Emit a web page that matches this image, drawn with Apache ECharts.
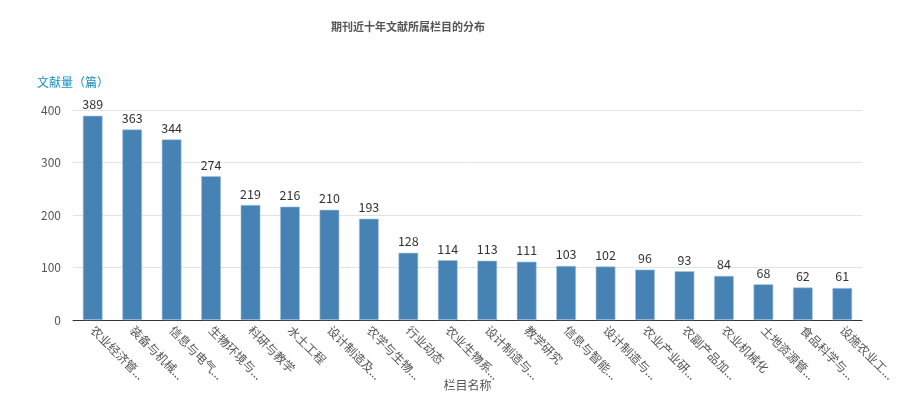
<!DOCTYPE html>
<html>
<head>
  <meta charset="utf-8">
  <title>期刊近十年文献所属栏目的分布</title>
  <script src="https://cdn.jsdelivr.net/npm/echarts@6/dist/echarts.min.js"></script>
  <style>
    html, body { margin: 0; padding: 0; background: #fff; }
    #main { width: 901px; height: 409px; }
  </style>
</head>
<body>
  <div id="main"></div>
  <script>
    // 栏目名称（标签过长时截断显示）
    const columns = [
      '农业经济管理', '装备与机械化工程', '信息与电气技术', '生物环境与能源工程', '科研与教学',
      '水土工程', '设计制造及自动化', '农学与生物技术', '行业动态', '农业生物系统工程',
      '设计制造与装备', '教学研究', '信息与智能技术', '设计制造与工艺', '农业产业研究',
      '农副产品加工', '农业机械化', '土地资源管理', '食品科学与工程', '设施农业工程'
    ];
    // 各栏目文献量（篇）
    const counts = [389, 363, 344, 274, 219, 216, 210, 193, 128, 114, 113, 111, 103, 102, 96, 93, 84, 68, 62, 61];
    const yTicks = [0, 100, 200, 300, 400];

    const chart = echarts.init(document.getElementById('main'));
    chart.setOption({
      textStyle: { fontFamily: '"Microsoft YaHei", "Noto Sans CJK SC", sans-serif' },
      title: {
        text: '期刊近十年文献所属栏目的分布',
        left: 326,
        top: 16,
        textStyle: { fontSize: 11, fontWeight: 'bold', color: '#555' }
      },
      grid: { left: 73, right: 39, top: 110, bottom: 89 },
      xAxis: {
        type: 'category',
        data: columns,
        name: '栏目名称',
        nameLocation: 'middle',
        nameGap: 59,
        nameMoveOverlap: false,
        nameTextStyle: { color: '#555', fontSize: 12 },
        axisLine: { lineStyle: { color: '#333' } },
        axisTick: { show: false },
        axisLabel: {
          interval: 0,
          rotate: -45,
          color: '#555',
          fontSize: 12,
          formatter: name => name.length > 5 ? name.slice(0, 5) + '...' : name
        }
      },
      yAxis: {
        type: 'value',
        min: yTicks[0],
        max: yTicks[yTicks.length - 1],
        interval: 100,
        name: '文献量（篇）',
        nameGap: 22,
        nameTextStyle: { color: '#1a8fc4', fontSize: 12, align: 'center' },
        axisLine: { show: false },
        axisTick: { show: false },
        axisLabel: { color: '#555', fontSize: 12, margin: 12 },
        splitLine: { lineStyle: { color: '#e3e3e3' } }
      },
      series: [{
        type: 'bar',
        data: counts,
        barWidth: '50%',
        itemStyle: { color: '#4682b4', borderColor: '#a9c8e3', borderWidth: 0.6 },
        label: { show: true, position: 'top', color: '#333', fontSize: 12.5, distance: 5 }
      }]
    });
  </script>
</body>
</html>
